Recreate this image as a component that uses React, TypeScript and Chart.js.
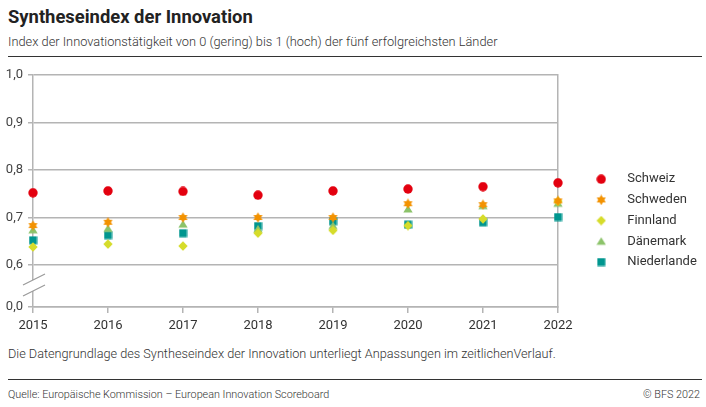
import React, { useEffect, useRef } from 'react';
import { Chart, registerables } from 'chart.js';

Chart.register(...registerables);

const years = ['2015', '2016', '2017', '2018', '2019', '2020', '2021', '2022'];
const seriesNames = ['Schweiz', 'Schweden', 'Finnland', 'Dänemark', 'Niederlande'];
const schweiz = [0.752, 0.756, 0.755, 0.747, 0.756, 0.760, 0.765, 0.773];
const schweden = [0.683, 0.690, 0.700, 0.700, 0.700, 0.729, 0.727, 0.735];
const finnland = [0.638, 0.644, 0.640, 0.667, 0.673, 0.683, 0.697, 0.734];
const daenemark = [0.674, 0.677, 0.686, 0.676, 0.683, 0.718, 0.725, 0.730];
const niederlande = [0.652, 0.663, 0.667, 0.682, 0.692, 0.685, 0.690, 0.701];
const seriesValues = [schweiz, schweden, finnland, daenemark, niederlande];
const seriesColors = ['#e3000f', '#f39200', '#d6dc2a', '#8cc36a', '#00968f'];
const seriesShapes = ['circle', 'hexagram', 'diamond', 'triangle', 'square'];

// axis is broken between 0,0 and 0,6
const yBreakMin = 0.5116;
const yTickValues = [yBreakMin, 0.6, 0.7, 0.8, 0.9, 1.0];
const yTickLabels = ['0,0', '0,6', '0,7', '0,8', '0,9', '1,0'];

const gridColor = '#b4b4b4';

function makeMarker(shape: string, color: string): HTMLCanvasElement {
    const size = shape === 'hexagram' ? 11 : shape === 'square' ? 9 : 10;
    const c = document.createElement('canvas');
    c.width = size;
    c.height = size;
    const ctx = c.getContext('2d')!;
    const m = size / 2;
    ctx.fillStyle = color;
    ctx.beginPath();
    if (shape === 'circle') {
        ctx.arc(m, m, m - 0.3, 0, Math.PI * 2);
    } else if (shape === 'hexagram') {
        const r = m - 0.3;
        for (const start of [-90, 90]) {
            for (let i = 0; i < 3; i++) {
                const a = ((start + i * 120) * Math.PI) / 180;
                const px = m + r * Math.cos(a);
                const py = m + r * Math.sin(a);
                if (i === 0) ctx.moveTo(px, py);
                else ctx.lineTo(px, py);
            }
            ctx.closePath();
        }
    } else if (shape === 'diamond') {
        ctx.moveTo(m, 0.3);
        ctx.lineTo(size - 0.3, m);
        ctx.lineTo(m, size - 0.3);
        ctx.lineTo(0.3, m);
        ctx.closePath();
    } else if (shape === 'triangle') {
        ctx.moveTo(m, 1);
        ctx.lineTo(size - 0.3, size - 1.5);
        ctx.lineTo(0.3, size - 1.5);
        ctx.closePath();
    } else {
        ctx.rect(0.5, 0.5, size - 1, size - 1);
    }
    ctx.fill();
    return c;
}

const axisBreak = {
    id: 'axisBreak',
    afterDraw(chart: any) {
        const { ctx, scales } = chart;
        const x = scales.x.left;
        const y0 = scales.y.getPixelForValue(0.6);
        const yb = scales.y.getPixelForValue(yBreakMin);
        const mid = (y0 + yb) / 2;
        ctx.save();
        ctx.fillStyle = '#ffffff';
        ctx.fillRect(x - 2, mid - 6, 4, 11);
        ctx.strokeStyle = '#9a9a9a';
        ctx.lineWidth = 1.2;
        ctx.beginPath();
        ctx.moveTo(x - 10, mid - 1);
        ctx.lineTo(x + 12, mid - 12);
        ctx.moveTo(x - 10, mid + 10);
        ctx.lineTo(x + 12, mid - 1);
        ctx.stroke();
        ctx.restore();
    },
};

const InnovationChart: React.FC = () => {
    const canvasRef = useRef<HTMLCanvasElement>(null);
    const chartRef = useRef<Chart | null>(null);

    useEffect(() => {
        if (!canvasRef.current) return;
        const ctx = canvasRef.current.getContext('2d');
        if (!ctx) return;

        Chart.defaults.font.family = 'Roboto, sans-serif';

        chartRef.current = new Chart(ctx, {
            type: 'line',
            data: {
                labels: years,
                datasets: seriesNames.map((name, i) => ({
                    label: name,
                    data: seriesValues[i],
                    showLine: false,
                    backgroundColor: seriesColors[i],
                    borderColor: seriesColors[i],
                    pointStyle: makeMarker(seriesShapes[i], seriesColors[i]),
                    pointRadius: 5,
                })),
            },
            options: {
                animation: false,
                responsive: true,
                maintainAspectRatio: false,
                layout: { padding: { top: 13, right: 3, left: 0, bottom: 0 } },
                scales: {
                    x: {
                        offset: false,
                        grid: { display: true, drawOnChartArea: false, tickLength: 6, color: gridColor, lineWidth: 1.5 },
                        border: { color: gridColor, width: 1.5 },
                        ticks: { color: '#333', font: { size: 13 }, padding: 5, maxRotation: 0 },
                        afterFit: (s: any) => { s.height = 30; },
                    },
                    y: {
                        min: yBreakMin,
                        max: 1.0,
                        afterBuildTicks: (s: any) => { s.ticks = yTickValues.map(v => ({ value: v })); },
                        grid: { color: gridColor, lineWidth: 1.5, tickLength: 5 },
                        border: { color: gridColor, width: 1.5 },
                        ticks: {
                            color: '#444',
                            font: { size: 13 },
                            padding: 5,
                            callback: (_v: any, index: number) => yTickLabels[index],
                        },
                        afterFit: (s: any) => { s.width = 33; },
                    },
                    y2: {
                        position: 'right',
                        min: 0,
                        max: 1,
                        grid: { display: false, drawOnChartArea: false },
                        border: { display: true, color: gridColor, width: 1.5 },
                        ticks: { display: false },
                        afterFit: (s: any) => { s.width = 16; },
                    },
                },
                plugins: {
                    legend: {
                        position: 'right',
                        align: 'start',
                        maxWidth: 129,
                        title: {
                            display: true,
                            text: ' ',
                            color: 'rgba(0,0,0,0)',
                            font: { size: 10, lineHeight: 1.2 },
                            padding: { top: 78, bottom: 0 },
                        },
                        labels: {
                            usePointStyle: true,
                            pointStyleWidth: 39,
                            padding: 7.7,
                            color: '#333',
                            font: { size: 13 },
                        },
                    },
                    tooltip: { enabled: false },
                },
            },
            plugins: [axisBreak],
        } as any);

        return () => {
            if (chartRef.current) {
                chartRef.current.destroy();
                chartRef.current = null;
            }
        };
    }, []);

    return <canvas ref={canvasRef}></canvas>;
};

const App: React.FC = () => {
    return (
        <div style={{ position: 'absolute', left: 0, top: 0, width: 706, height: 407, background: '#fff', fontFamily: 'Roboto, sans-serif', color: '#222' }}>
            <div style={{ position: 'absolute', left: 8, top: 6, fontSize: 18.4, fontWeight: 700, whiteSpace: 'nowrap', lineHeight: 'normal' }}>
                Syntheseindex der Innovation
            </div>
            <div style={{ position: 'absolute', left: 8, top: 34, fontSize: 12.8, fontWeight: 300, color: '#333', whiteSpace: 'nowrap', lineHeight: 'normal' }}>
                Index der Innovationstätigkeit von 0 (gering) bis 1 (hoch) der fünf erfolgreichsten Länder
            </div>
            <div style={{ position: 'absolute', left: 8, top: 56, width: 694, height: 1, background: '#333' }} />
            <div style={{ position: 'absolute', left: 0, top: 62, width: 706, height: 275 }}>
                <InnovationChart />
            </div>
            <div style={{ position: 'absolute', left: 8, top: 346, fontSize: 12.7, fontWeight: 300, color: '#333', whiteSpace: 'nowrap', lineHeight: 'normal' }}>
                Die Datengrundlage des Syntheseindex der Innovation unterliegt Anpassungen im zeitlichenVerlauf.
            </div>
            <div style={{ position: 'absolute', left: 8, top: 379, width: 694, height: 1, background: '#333' }} />
            <div style={{ position: 'absolute', left: 8, top: 388, fontSize: 10.8, fontWeight: 300, color: '#333', whiteSpace: 'nowrap', lineHeight: 'normal' }}>
                Quelle: Europäische Kommission – European Innovation Scoreboard
            </div>
            <div style={{ position: 'absolute', right: 6, top: 388, fontSize: 10.8, fontWeight: 300, color: '#333', whiteSpace: 'nowrap', lineHeight: 'normal' }}>
                © BFS 2022
            </div>
        </div>
    );
};

export default App;
